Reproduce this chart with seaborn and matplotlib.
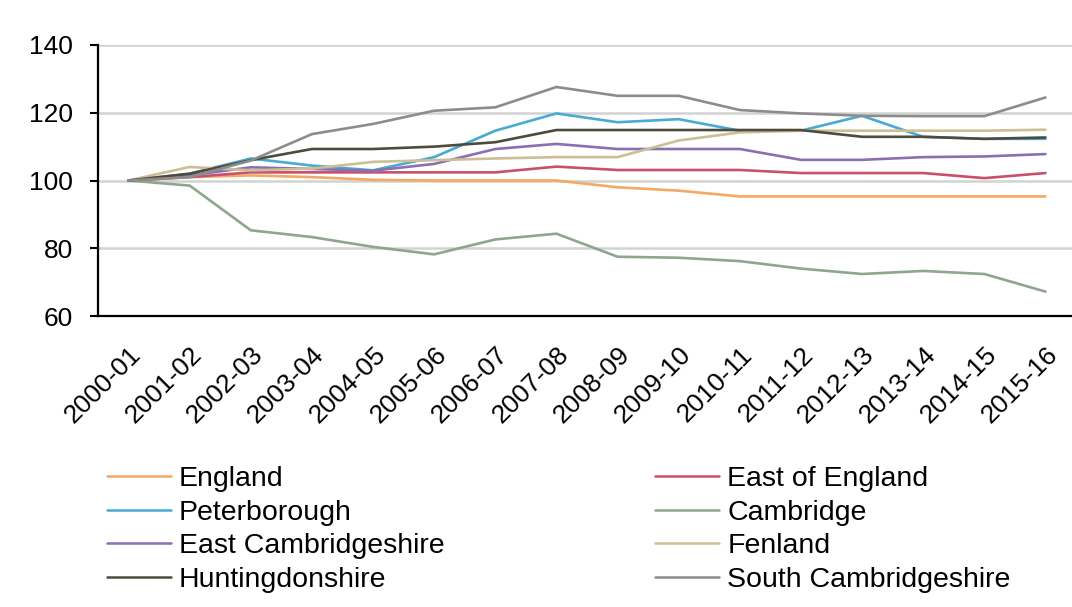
import matplotlib
matplotlib.use("Agg")
import matplotlib.pyplot as plt
import matplotlib.transforms as mtransforms
import seaborn as sns
import pandas as pd
from matplotlib.ticker import FixedLocator
from matplotlib.lines import Line2D

periods = ["2000-01", "2001-02", "2002-03", "2003-04", "2004-05", "2005-06", "2006-07",
           "2007-08", "2008-09", "2009-10", "2010-11", "2011-12", "2012-13", "2013-14",
           "2014-15", "2015-16"]

england = [100, 101, 101.5, 101, 100.2, 100, 100, 100, 98, 97, 95.3, 95.3, 95.3, 95.3, 95.3, 95.3]
east_of_england = [100, 101, 102.4, 102.4, 102.4, 102.4, 102.4, 104.1, 103.1, 103.1, 103.1,
                   102.2, 102.2, 102.2, 100.7, 102.2]
peterborough = [100, 102, 106.5, 104.4, 103, 106.9, 114.7, 119.8, 117.2, 118.1, 114.7, 114.7,
                119.1, 112.9, 112.3, 112.3]
cambridge = [100, 98.5, 85.3, 83.3, 80.4, 78.2, 82.6, 84.3, 77.5, 77.2, 76.2, 74, 72.4, 73.3,
             72.4, 67.2]
east_cambs = [100, 101.5, 103.9, 103.4, 102.9, 104.9, 109.3, 110.8, 109.3, 109.3, 109.3, 106.1,
              106.1, 106.9, 107.1, 107.8]
fenland = [100, 104, 103, 103.5, 105.5, 106, 106.5, 106.9, 106.9, 111.8, 114.2, 114.7, 114.7,
           114.7, 114.7, 115]
huntingdonshire = [100, 102, 106, 109.3, 109.3, 110, 111.3, 114.9, 114.9, 114.9, 114.9, 114.9,
                   112.9, 112.9, 112.3, 112.7]
south_cambs = [100, 101, 105.9, 113.7, 116.7, 120.6, 121.6, 127.6, 125, 125, 120.8, 119.8,
               119.1, 119, 119, 124.5]

series_names = ["England", "East of England", "Peterborough", "Cambridge",
                "East Cambridgeshire", "Fenland", "Huntingdonshire", "South Cambridgeshire"]
series_values = [england, east_of_england, peterborough, cambridge, east_cambs, fenland,
                 huntingdonshire, south_cambs]
colors = {"England": "#F5A865", "East of England": "#C9506B", "Peterborough": "#47ABD2",
          "Cambridge": "#8DA68D", "East Cambridgeshire": "#8A70B0", "Fenland": "#CDBE96",
          "Huntingdonshire": "#4E4B3D", "South Cambridgeshire": "#8C8C8C"}
y_ticks = [60, 80, 100, 120, 140]

rows = []
for name, vals in zip(series_names, series_values):
    for p, v in zip(periods, vals):
        rows.append({"period": p, "value": v, "area": name})
df = pd.DataFrame(rows)

sns.set_style("white")
plt.rcParams["font.family"] = ["Liberation Sans", "DejaVu Sans"]
plt.rcParams["text.color"] = "black"
plt.rcParams["xtick.color"] = "black"
plt.rcParams["ytick.color"] = "black"

fig = plt.figure(figsize=(10.72, 6.07), dpi=100)
ax = fig.add_axes([98 / 1072, 1 - 316 / 607, 978 / 1072, (316 - 45) / 607])

sns.lineplot(data=df, x="period", y="value", hue="area", hue_order=series_names,
             palette=colors, linewidth=1.9, sort=False, legend=False, ax=ax)

ax.set_xlim(-0.5, len(periods) - 0.5)
ax.set_ylim(60, 140)
ax.set_yticks(y_ticks)
ax.set_yticklabels([str(t) for t in y_ticks], fontsize=19, color="black")
ax.set_xticks(range(len(periods)))
ax.set_xticklabels(periods, fontsize=19, rotation=45, ha="right", rotation_mode="anchor",
                   color="black")
offset = mtransforms.ScaledTranslation(-6 / 100, 4 / 100, fig.dpi_scale_trans)
for lab in ax.get_xticklabels():
    lab.set_transform(lab.get_transform() + offset)
ax.xaxis.set_minor_locator(FixedLocator([i - 0.5 for i in range(len(periods) + 1)]))
ax.tick_params(axis="x", which="major", length=0, pad=19)
ax.tick_params(axis="x", which="minor", length=6, width=1.5, color="black", direction="out")
ax.tick_params(axis="y", which="major", length=6, width=1.5, color="black", direction="out", pad=12,
               left=True)
ax.set_xlabel("")
ax.set_ylabel("")

for t in [80, 100, 120, 140]:
    ax.axhline(t, color="#d2d2d2", linewidth=1.8, zorder=0)

for s in ["top", "right"]:
    ax.spines[s].set_visible(False)
for s in ["left", "bottom"]:
    ax.spines[s].set_color("black")
    ax.spines[s].set_linewidth(1.6)
ax.set_facecolor("white")

order = ["England", "Peterborough", "East Cambridgeshire", "Huntingdonshire",
         "East of England", "Cambridge", "Fenland", "South Cambridgeshire"]
handles = [Line2D([0], [0], color=colors[n], linewidth=1.8) for n in order]
leg = fig.legend(handles, order, ncol=2, loc="upper left",
                 bbox_to_anchor=(107 / 1072, 1 - 466 / 607), frameon=False,
                 fontsize=20.5, handlelength=2.25, handletextpad=0.28, columnspacing=7.4,
                 labelspacing=0.27, borderpad=0, borderaxespad=0)
for txt in leg.get_texts():
    txt.set_color("black")

fig.savefig("out.png", dpi=100, facecolor="white")
